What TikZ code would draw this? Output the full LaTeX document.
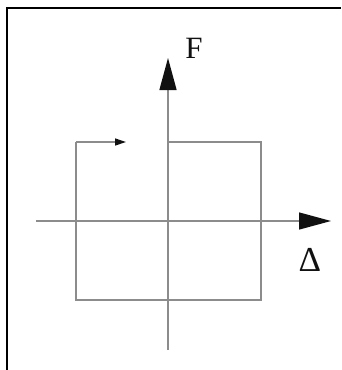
\documentclass[tikz,border=0pt]{standalone}
\usepackage{fontspec}
\setmainfont{Liberation Serif}
\usepackage{tikz}
\usetikzlibrary{arrows.meta}
\definecolor{ink}{HTML}{111111}
\definecolor{cgray}{HTML}{8C8C8C}
\tikzset{
  axis/.style={line width=1.3pt, draw=cgray, -{Triangle[length=32pt,width=17pt,color=ink]}},
  loop/.style={line width=1.3pt, draw=cgray},
  looparrow/.style={loop, -{Triangle[length=11pt,width=7pt,color=ink]}},
  lbl/.style={font=\fontsize{31pt}{33pt}\selectfont, text=ink, inner sep=0pt},
}

\begin{document}
\begin{tikzpicture}[x=1pt, y=-1pt]
  \useasboundingbox (0,0) rectangle (341,370);
  % frame
  \draw[line width=2.5pt, draw=black] (7,370) -- (7,8) -- (341,8);
  % axes
  \coordinate (xl) at (36,221);
  \coordinate (xr) at (331,221);
  \coordinate (yb) at (168,350);
  \coordinate (yt) at (168,58);
  \draw[axis] (xl) -- (xr);
  \draw[axis] (yb) -- (yt);
  \node[lbl](F) at (194,48){F};
  \node[lbl,font=\fontsize{35pt}{37pt}\selectfont](D) at (310,260){Δ};
  % loop
  \coordinate (tl) at (76,142);
  \coordinate (tm) at (126,142);
  \coordinate (tc) at (168,142);
  \coordinate (tr) at (261,142);
  \coordinate (br) at (261,300);
  \coordinate (bl) at (76,300);
  \draw[loop] (tc) -- (tr) -- (br) -- (bl) -- (tl);
  \draw[looparrow] (tl) -- (tm);
\end{tikzpicture}
\end{document}
